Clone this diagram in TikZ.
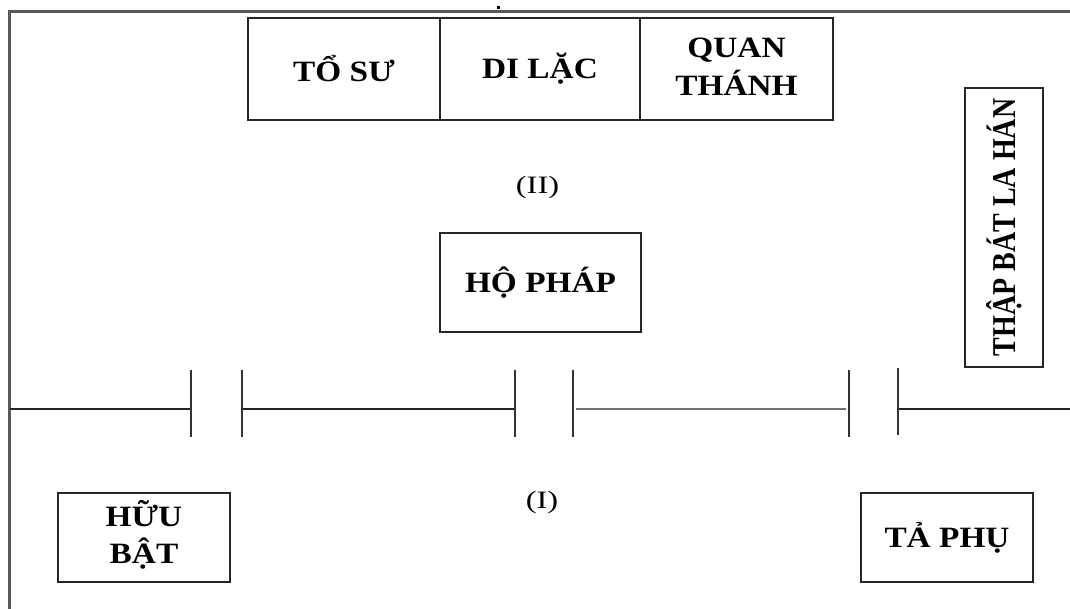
\documentclass[tikz,border=0pt]{standalone}
\usepackage{fontspec}
\setmainfont{Liberation Serif}
\usepackage{graphicx}
% widen the lettering horizontally
\newcommand{\stretchtext}[1]{\scalebox{1.13}[1]{#1}}
\newcommand{\stretchlabel}[1]{\scalebox{1.3}[1]{#1}}

\begin{document}
\begin{tikzpicture}[x=1pt,y=-1pt,
  box/.style={draw=black!85, line width=2pt, inner sep=0pt, align=center,
              font=\bfseries\fontsize{29.5}{37.5}\selectfont},
  zonelabel/.style={font=\fontsize{25}{30}\selectfont},
  frameline/.style={draw=black!65, line width=2.6pt},
  wall/.style={draw=black!85, line width=2pt},
  wallgray/.style={draw=black!55, line width=2.6pt},
  post/.style={draw=black!80, line width=2.2pt}
]
\useasboundingbox (0,0) rectangle (1070,609);

% outer frame (top and left edges)
\coordinate (fTL) at (9.5,11.5);
\coordinate (fTR) at (1070,11.5);
\coordinate (fBL) at (9.5,609);
\draw[frameline] (fTR) -- (fTL) -- (fBL);
\fill[black] (497,6) rectangle (500,9);

% upper row of altars
\node[box, minimum width=192, minimum height=102] (toSu) at (344,69)
  {\stretchtext{TỔ SƯ}};
\node[box, minimum width=200, minimum height=102] (diLac) at (540,69)
  {\stretchtext{DI LẶC}};
\node[box, minimum width=193, minimum height=102] (quanThanh) at (736.5,69)
  {\stretchtext{\begin{tabular}{@{}c@{}}QUAN\\THÁNH\end{tabular}}};

\node[zonelabel] (two) at (537.5,187) {\stretchlabel{(II)}};

\node[box, minimum width=201, minimum height=99] (hoPhap) at (540.5,282.5)
  {\stretchtext{HỘ PHÁP}};

\node[box, minimum width=78, minimum height=279] (thapBat) at (1004,227.5)
  {\rotatebox{90}{\scalebox{1}[1.19]{\fontsize{28}{32}\selectfont THẬP BÁT LA HÁN}}};

% dividing wall with three openings
\coordinate (wL) at (9.5,409);
\coordinate (wR) at (1070,409);
\coordinate (p1t) at (191,370);  \coordinate (p1b) at (191,437);
\coordinate (p2t) at (242,370);  \coordinate (p2b) at (242,437);
\coordinate (p3t) at (515,370);  \coordinate (p3b) at (515,437);
\coordinate (p4t) at (573,370);  \coordinate (p4b) at (573,437);
\coordinate (p5t) at (849,370);  \coordinate (p5b) at (849,437);
\coordinate (p6t) at (898,368);  \coordinate (p6b) at (898,435);
\coordinate (g1) at (576,409);
\coordinate (g2) at (846,409);

\draw[wall] (wL) -- (p1t |- wL);
\draw[wall] (p2t |- wL) -- (p3t |- wL);
\draw[wallgray] (g1) -- (g2);
\draw[wall] (p6t |- wR) -- (wR);
\foreach \p in {1,...,6} \draw[post] (p\p t) -- (p\p b);

\node[zonelabel] (one) at (542,502) {\stretchlabel{(I)}};

% lower row
\node[box, minimum width=172, minimum height=89] (huuBat) at (144,537.5)
  {\stretchtext{\begin{tabular}{@{}c@{}}HỮU\\BẬT\end{tabular}}};
\node[box, minimum width=172, minimum height=89] (taPhu) at (947,537.5)
  {\stretchtext{TẢ PHỤ}};
\end{tikzpicture}
\end{document}
